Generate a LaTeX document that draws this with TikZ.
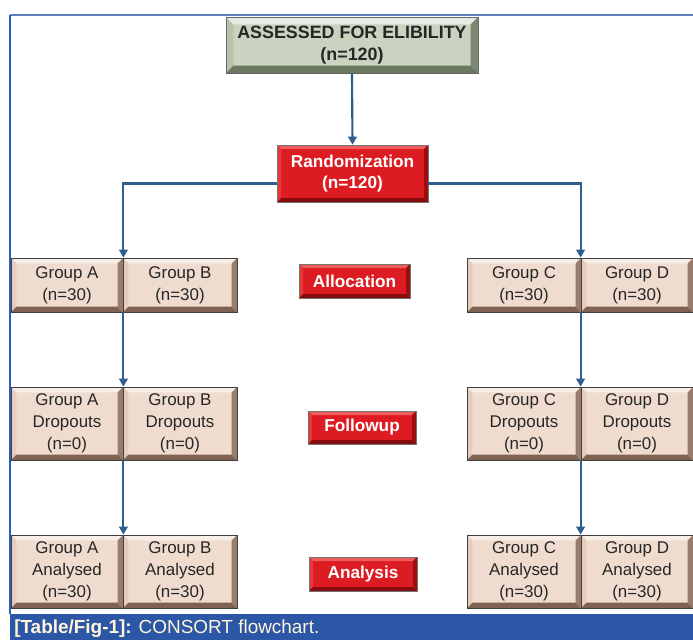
\documentclass[tikz,border=0pt]{standalone}
\usepackage{fontspec}
\setmainfont{Liberation Sans}
\usetikzlibrary{arrows.meta,calc}
\definecolor{conncol}{HTML}{2F5D8E}
\definecolor{framecolA}{HTML}{5B7DB8}
\definecolor{framecolB}{HTML}{2A5CC4}
\definecolor{bannercol}{HTML}{2C56A6}
\definecolor{beigeface}{HTML}{EFDCCF}
\definecolor{beigetop}{HTML}{F8EEE8}
\definecolor{beigeleft}{HTML}{E4CDBE}
\definecolor{beigeright}{HTML}{9A7C6C}
\definecolor{beigebot}{HTML}{806252}
\definecolor{greenface}{HTML}{C9D3C0}
\definecolor{greentop}{HTML}{E6ECE1}
\definecolor{greenleft}{HTML}{B6C2AC}
\definecolor{greenright}{HTML}{7A8872}
\definecolor{greenbot}{HTML}{6A7862}
\definecolor{redface}{HTML}{DC1C22}
\definecolor{redtop}{HTML}{EE5C5C}
\definecolor{redleft}{HTML}{E63A3A}
\definecolor{redright}{HTML}{9A0E10}
\definecolor{redbot}{HTML}{860C0E}
\definecolor{captext}{HTML}{FFF6DC}
\tikzset{
  bevel/.style n args={5}{path picture={
    \fill[#2] (path picture bounding box.north west) -- (path picture bounding box.north east)
      -- ([shift={(-#1,-#1)}]path picture bounding box.north east) -- ([shift={(#1,-#1)}]path picture bounding box.north west) -- cycle;
    \fill[#3] (path picture bounding box.north west) -- (path picture bounding box.south west)
      -- ([shift={(#1,#1)}]path picture bounding box.south west) -- ([shift={(#1,-#1)}]path picture bounding box.north west) -- cycle;
    \fill[#4] (path picture bounding box.north east) -- (path picture bounding box.south east)
      -- ([shift={(-#1,#1)}]path picture bounding box.south east) -- ([shift={(-#1,-#1)}]path picture bounding box.north east) -- cycle;
    \fill[#5] (path picture bounding box.south west) -- (path picture bounding box.south east)
      -- ([shift={(-#1,#1)}]path picture bounding box.south east) -- ([shift={(#1,#1)}]path picture bounding box.south west) -- cycle;
  }},
  beigebox/.style={rectangle, fill=beigeface, draw=black!75, line width=0.6pt, inner sep=0pt,
    bevel={4pt}{beigetop}{beigeleft}{beigeright}{beigebot},
    font=\fontsize{12.7}{16.5}\selectfont, align=center, text=black!85},
  greenbox/.style={rectangle, fill=greenface, draw=black!60, line width=0.6pt, inner sep=0pt,
    bevel={5.5pt}{greentop}{greenleft}{greenright}{greenbot},
    font=\bfseries\fontsize{13.4}{16}\selectfont, align=center, text=black!85},
  redbox/.style={rectangle, fill=redface, draw=black!55, line width=0.5pt, inner sep=0pt,
    bevel={3pt}{redtop}{redleft}{redright}{redbot},
    font=\bfseries\fontsize{12.9}{16}\selectfont, align=center, text=white},
  conn/.style={draw=conncol, line width=1.6pt, -{Triangle[length=6pt,width=6.5pt]}},
}
\begin{document}
\begin{tikzpicture}[x=0.75pt,y=-0.75pt]
\useasboundingbox (0,0) rectangle (693,640);
% frame
\draw[framecolA, line width=1.6pt] (10,15) -- (693,15);
\draw[framecolB, line width=1.6pt] (10,15) -- (10,614);
% banner
\fill[bannercol] (10,614) rectangle (693,640);
\node[anchor=west, text=captext, font=\fontsize{14.2}{16}\selectfont, inner sep=0pt] (cap) at (14,628.5)
  {\textbf{[Table/Fig-1]:} CONSORT flowchart.};
% top
\node[greenbox, minimum width=189pt, minimum height=42pt] (top) at (352,45) {ASSESSED FOR ELIBILITY\\(n=120)};
\node[redbox, minimum width=113.25pt, minimum height=42.75pt] (rand) at (352.5,173.5) {Randomization\\(n=120)};
% row 1
\node[beigebox, minimum width=84pt, minimum height=40.5pt] (A1) at (67,285) {Group A\\(n=30)};
\node[beigebox, minimum width=85.5pt, minimum height=40.5pt] (B1) at (180,285) {Group B\\(n=30)};
\node[beigebox, minimum width=85.5pt, minimum height=40.5pt] (C1) at (524,285) {Group C\\(n=30)};
\node[beigebox, minimum width=84pt, minimum height=40.5pt] (D1) at (637,285) {Group D\\(n=30)};
\node[redbox, minimum width=83.25pt, minimum height=25.5pt] (alloc) at (354.5,281) {Allocation};
% row 2
\node[beigebox, minimum width=84pt, minimum height=54.75pt] (A2) at (67,423.5) {Group A\\Dropouts\\(n=0)};
\node[beigebox, minimum width=85.5pt, minimum height=54.75pt] (B2) at (180,423.5) {Group B\\Dropouts\\(n=0)};
\node[beigebox, minimum width=85.5pt, minimum height=54.75pt] (C2) at (524,423.5) {Group C\\Dropouts\\(n=0)};
\node[beigebox, minimum width=84pt, minimum height=54.75pt] (D2) at (637,423.5) {Group D\\Dropouts\\(n=0)};
\node[redbox, minimum width=81pt, minimum height=24.75pt] (follow) at (362,427.5) {Followup};
% row 3
\node[beigebox, minimum width=84pt, minimum height=54.75pt] (A3) at (67,571.5) {Group A\\Analysed\\(n=30)};
\node[beigebox, minimum width=85.5pt, minimum height=54.75pt] (B3) at (180,571.5) {Group B\\Analysed\\(n=30)};
\node[beigebox, minimum width=85.5pt, minimum height=54.75pt] (C3) at (524,571.5) {Group C\\Analysed\\(n=30)};
\node[beigebox, minimum width=84pt, minimum height=54.75pt] (D3) at (637,571.5) {Group D\\Analysed\\(n=30)};
\node[redbox, minimum width=81pt, minimum height=25.5pt] (anal) at (363,574) {Analysis};
% connectors
\draw[conn] (top.south) -- (rand.north);
\draw[conn] ([yshift=-7.5pt]rand.west) -| (A1.north east);
\draw[conn] ([yshift=-7.5pt]rand.east) -| (D1.north west);
\draw[conn] (A1.south east) -- (A2.north east);
\draw[conn] (A2.south east) -- (A3.north east);
\draw[conn] (D1.south west) -- (D2.north west);
\draw[conn] (D2.south west) -- (D3.north west);
\end{tikzpicture}
\end{document}
